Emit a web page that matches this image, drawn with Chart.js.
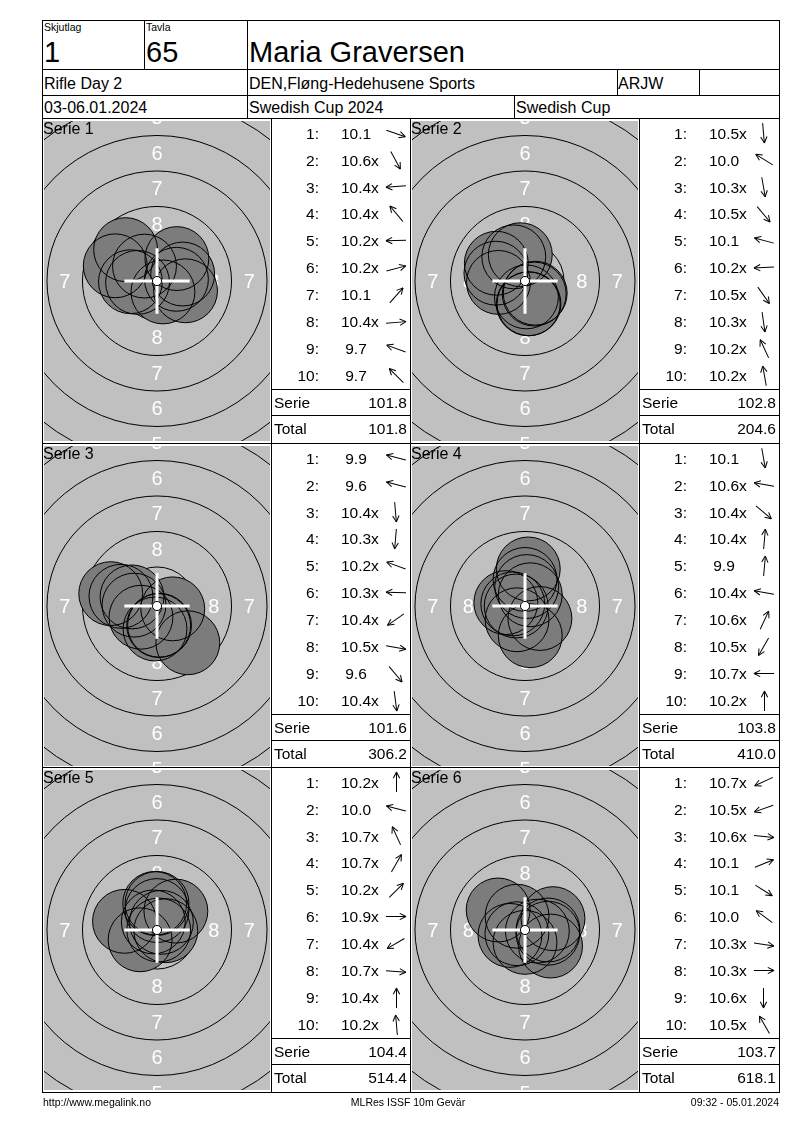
<!DOCTYPE html>
<html>
<head>
<meta charset="utf-8">
<title>Maria Graversen - Swedish Cup 2024</title>
<script src="https://cdn.jsdelivr.net/npm/chart.js@4.4.1/dist/chart.umd.min.js"></script>
<style>
  body { margin: 0; background: #fff; font-family: "Liberation Sans", Arial, sans-serif; color: #000; }
  #page { position: relative; width: 800px; height: 1130px; overflow: hidden; }
  .l { position: absolute; background: #000; z-index: 3; }
  .t { position: absolute; white-space: nowrap; line-height: 1; z-index: 4; }
  .a { position: absolute; background: #000; height: 1px; }
  canvas { position: absolute; z-index: 1; }
</style>
</head>
<body>
<div id="page"></div>
<script>
// ---- data read from the card ----
const serieNames = ["Serie 1", "Serie 2", "Serie 3", "Serie 4", "Serie 5", "Serie 6"];
const shotNumbers = ["1:", "2:", "3:", "4:", "5:", "6:", "7:", "8:", "9:", "10:"];

// scores per shot
const s1Scores = ["10.1", "10.6x", "10.4x", "10.4x", "10.2x", "10.2x", "10.1", "10.4x", "9.7", "9.7"];
const s2Scores = ["10.5x", "10.0", "10.3x", "10.5x", "10.1", "10.2x", "10.5x", "10.3x", "10.2x", "10.2x"];
const s3Scores = ["9.9", "9.6", "10.4x", "10.3x", "10.2x", "10.3x", "10.4x", "10.5x", "9.6", "10.4x"];
const s4Scores = ["10.1", "10.6x", "10.4x", "10.4x", "9.9", "10.4x", "10.6x", "10.5x", "10.7x", "10.2x"];
const s5Scores = ["10.2x", "10.0", "10.7x", "10.7x", "10.2x", "10.9x", "10.4x", "10.7x", "10.4x", "10.2x"];
const s6Scores = ["10.7x", "10.5x", "10.6x", "10.1", "10.1", "10.0", "10.3x", "10.3x", "10.6x", "10.5x"];

// shot positions in mm from centre (x right, y up)
const s1X = [2.01, 0.42, -1.37, -0.88, -1.87, 1.81, 1.40, 1.37, -2.94, -2.21];
const s1Y = [-0.69, -0.77, -0.10, 1.05, -0.05, 0.49, 1.58, 0.12, 1.07, 2.21];
const s2X = [0.10, -2.02, 0.28, 0.72, -2.05, -1.87, 0.65, 0.23, -0.79, -0.33];
const s2Y = [-1.12, 1.25, -1.60, -0.86, 0.55, -0.10, -0.92, -1.61, 1.70, 1.85];
const s3X = [-2.54, -3.26, 0.12, -0.14, -1.76, -1.62, -1.13, 1.11, 2.17, 0.18];
const s3Y = [0.68, 0.87, -1.37, -1.62, 0.64, 0.06, -0.79, -0.20, -2.59, -1.36];
const s4X = [0.37, -0.86, 1.05, 0.12, 0.23, -1.35, 0.37, -0.56, -0.62, 0.00];
const s4Y = [-2.09, 0.15, -0.88, 1.37, 2.61, 0.24, 0.79, -0.97, 0.00, 1.87];
const s5X = [0.00, -2.29, -0.26, 0.31, 1.33, 0.12, -1.19, 0.62, 0.00, -0.16];
const s5Y = [1.87, 0.61, 0.57, 0.54, 1.33, 0.00, -0.69, -0.05, 1.37, 1.87];
const s6X = [-0.57, -1.06, 0.87, 1.97, 1.80, -1.89, 1.61, 1.62, 0.00, -0.56];
const s6Y = [-0.26, -0.38, -0.08, 0.80, -1.13, 1.41, -0.23, 0.00, -0.87, 0.97];

const serieSums = ["101.8", "102.8", "101.6", "103.8", "104.4", "103.7"];
const runningTotals = ["101.8", "204.6", "306.2", "410.0", "514.4", "618.1"];

// target geometry (mm) - ISSF 10m air rifle
const ringRadii = [0.25, 2.75, 5.25, 7.75, 10.25, 12.75, 15.25];
const ringNumbers = ["8", "7", "6", "5"];
const ringNumberDist = [4.0, 6.5, 9.0, 11.5];
const pelletRadius = 2.25;

const allScores = [s1Scores, s2Scores, s3Scores, s4Scores, s5Scores, s6Scores];
const allX = [s1X, s2X, s3X, s4X, s5X, s6X];
const allY = [s1Y, s2Y, s3Y, s4Y, s5Y, s6Y];

// ---- helpers ----
const page = document.getElementById("page");

function box(x, y, w, h) {
  const d = document.createElement("div");
  d.className = "l";
  d.style.cssText = `left:${x}px;top:${y}px;width:${w}px;height:${h}px`;
  page.appendChild(d);
}
function hline(x1, x2, y) { box(x1, y, x2 - x1 + 1, 1); }
function vline(x, y1, y2) { box(x, y1, 1, y2 - y1 + 1); }

function text(str, x, y, size, align) {
  const d = document.createElement("div");
  d.className = "t";
  d.textContent = str;
  d.style.left = x + "px";
  d.style.top = (y - size * 0.49) + "px";
  d.style.fontSize = size + "px";
  if (align === "right") d.style.transform = "translateX(-100%)";
  else if (align === "center") d.style.transform = "translateX(-50%)";
  page.appendChild(d);
  return d;
}

// thin direction arrow, shaft 20px, open head
function arrow(cx, cy, deg) {
  const w = document.createElement("div");
  w.style.cssText = `position:absolute;left:${cx}px;top:${cy}px;width:0;height:0;z-index:4;transform:rotate(${-deg}deg)`;
  const parts = [
    "left:-10px;top:-0.5px;width:20px",
    "left:3px;top:-0.5px;width:7px;transform-origin:100% 50%;transform:rotate(27deg)",
    "left:3px;top:-0.5px;width:7px;transform-origin:100% 50%;transform:rotate(-27deg)"
  ];
  parts.forEach(p => {
    const s = document.createElement("div");
    s.className = "a";
    s.style.cssText = p;
    w.appendChild(s);
  });
  page.appendChild(w);
}

// ---- target drawing (rings, numbers, cross) ----
const targetPlugin = {
  id: "target",
  beforeDatasetsDraw(chart) {
    const { ctx, chartArea: a, scales: { x, y } } = chart;
    const cx = x.getPixelForValue(0), cy = y.getPixelForValue(0);
    const k = x.getPixelForValue(1) - cx;
    ctx.save();
    ctx.beginPath();
    ctx.rect(a.left, a.top, a.width, a.height);
    ctx.clip();
    ctx.fillStyle = "#c0c0c0";
    ctx.fillRect(a.left, a.top, a.width, a.height);
    ctx.strokeStyle = "#000";
    ctx.lineWidth = 1;
    ringRadii.slice(1).forEach(r => {
      ctx.beginPath();
      ctx.arc(cx, cy, r * k, 0, Math.PI * 2);
      ctx.stroke();
    });
    ctx.fillStyle = "#fff";
    ctx.font = '20px "Liberation Sans", Arial, sans-serif';
    ctx.textAlign = "center";
    ctx.textBaseline = "middle";
    ringNumbers.forEach((n, i) => {
      const d = ringNumberDist[i];
      ctx.fillText(n, cx, y.getPixelForValue(d) + 1);
      ctx.fillText(n, cx, y.getPixelForValue(-d) + 1);
      ctx.fillText(n, x.getPixelForValue(-d), cy + 1);
      ctx.fillText(n, x.getPixelForValue(d), cy + 1);
    });
    ctx.restore();
  },
  afterDatasetsDraw(chart) {
    const { ctx, scales: { x, y } } = chart;
    const cx = x.getPixelForValue(0), cy = y.getPixelForValue(0);
    ctx.save();
    ctx.strokeStyle = "#fff";
    ctx.lineWidth = 3;
    ctx.beginPath();
    ctx.moveTo(x.getPixelForValue(-2.3), cy);
    ctx.lineTo(x.getPixelForValue(2.3), cy);
    ctx.moveTo(cx, y.getPixelForValue(2.3));
    ctx.lineTo(cx, y.getPixelForValue(-2.3));
    ctx.stroke();
    ctx.beginPath();
    ctx.arc(cx, cy, (x.getPixelForValue(ringRadii[0]) - cx) + 1, 0, Math.PI * 2);
    ctx.fillStyle = "#fff";
    ctx.fill();
    ctx.strokeStyle = "#000";
    ctx.lineWidth = 1;
    ctx.stroke();
    ctx.restore();
  }
};

function shotRadius(c) {
  const sx = c.chart.scales.x;
  return sx.getPixelForValue(pelletRadius) - sx.getPixelForValue(0);
}

function makeTarget(i, left, top) {
  const c = document.createElement("canvas");
  c.width = 226;
  c.height = 320;
  c.style.left = left + "px";
  c.style.top = top + "px";
  page.appendChild(c);
  const pts = allX[i].map((v, k) => ({ x: v, y: allY[i][k] }));
  new Chart(c, {
    type: "scatter",
    data: {
      datasets: [
        { data: pts, order: 0, pointRadius: shotRadius, pointHoverRadius: shotRadius,
          backgroundColor: "rgba(0,0,0,0)", borderColor: "#000", borderWidth: 1 },
        { data: pts, order: 1, pointRadius: shotRadius, pointHoverRadius: shotRadius,
          backgroundColor: "#7c7c7c", borderWidth: 0 }
      ]
    },
    options: {
      responsive: false,
      animation: false,
      events: [],
      layout: { padding: 0 },
      plugins: { legend: { display: false }, tooltip: { enabled: false } },
      scales: {
        x: { type: "linear", display: false, min: -7.96, max: 7.96 },
        y: { type: "linear", display: false, min: -11.27, max: 11.27 }
      }
    },
    plugins: [targetPlugin]
  });
}

// ---- header ----
hline(42, 779, 20);
hline(42, 779, 69);
hline(42, 779, 95);
hline(42, 779, 118);
vline(42, 20, 1092);
vline(779, 20, 1092);
hline(42, 779, 1092);
vline(144, 20, 69);
vline(247, 20, 118);
vline(617, 69, 95);
vline(699, 69, 95);
vline(514, 95, 118);

text("Skjutlag", 44, 27, 10.5);
text("Tavla", 146, 27, 10.5);
text("1", 44, 52.5, 29);
text("65", 146, 52.5, 29);
text("Maria Graversen", 249, 52.5, 29);
text("Rifle Day 2", 44, 83.5, 16);
text("DEN,Fløng-Hedehusene Sports", 249, 83.5, 16);
text("ARJW", 618, 83.5, 16);
text("03-06.01.2024", 44, 108, 16);
text("Swedish Cup 2024", 249, 108, 16);
text("Swedish Cup", 516, 108, 16);

// ---- series panels ----
const rowTops = [118, 443, 767];
const targetLefts = [44, 412];
const listLines = [271, 639];

hline(42, 779, 443);
hline(42, 779, 767);
listLines.forEach(L => { vline(L, 118, 1092); });
vline(410, 118, 1092);

for (let i = 0; i < 6; i++) {
  const col = i % 2, row = Math.floor(i / 2);
  const t = rowTops[row];
  const L = listLines[col];
  const R = col === 0 ? 410 : 779;
  makeTarget(i, targetLefts[col], t + 3);
  text(serieNames[i], targetLefts[col] - 1, t + 10.7, 16);

  allScores[i].forEach((s, k) => {
    const y = t + 15.3 + k * 26.93;
    text(shotNumbers[k], L + 48, y, 15.5, "right");
    const num = s.replace("x", "");
    const v = text(num, L + 85, y, 15.5, "center");
    if (s.endsWith("x")) {
      const sp = document.createElement("span");
      sp.textContent = "x";
      sp.style.cssText = "position:absolute;left:100%;top:0";
      v.appendChild(sp);
    }
    const ang = Math.atan2(allY[i][k], allX[i][k]) * 180 / Math.PI;
    arrow(L + 125, y, ang);
  });

  hline(L, R, t + 271);
  hline(L, R, t + 297);
  text("Serie", L + 3, t + 285, 15.5);
  text(serieSums[i], R - 3, t + 285, 15.5, "right");
  text("Total", L + 3, t + 310.5, 15.5);
  text(runningTotals[i], R - 3, t + 310.5, 15.5, "right");
}

// ---- footer ----
text("http://www.megalink.no", 43, 1102.5, 10.5);
text("MLRes ISSF 10m Gevär", 408, 1102.5, 10.5, "center");
text("09:32 - 05.01.2024", 779, 1102.5, 10.5, "right");
</script>
</body>
</html>
